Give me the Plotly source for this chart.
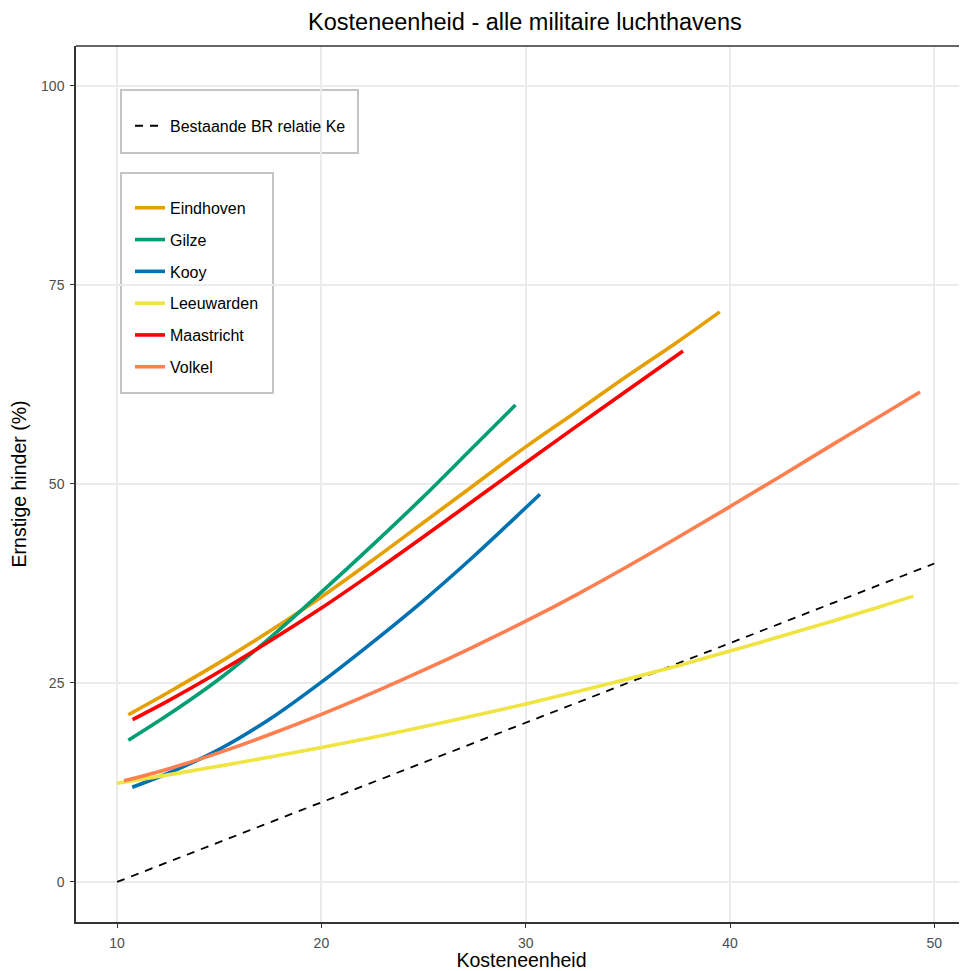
import plotly.graph_objects as go

## values
names = ["Eindhoven", "Gilze", "Kooy", "Leeuwarden", "Maastricht", "Volkel"]
colors = ["#E69F00", "#009E73", "#0072B2", "#F0E442", "#FF0000", "#FF7F50"]

x_eindhoven = [10.55, 12.5, 15, 17.5, 20, 22.5, 25, 27.5, 30, 32.5, 35, 37.5, 39.5]
y_eindhoven = [21.0, 23.8, 27.55, 31.55, 35.8, 40.4, 45.15, 49.9, 54.65, 59.1, 63.6, 67.95, 71.6]

x_gilze = [10.55, 12.5, 15, 17.5, 20, 22.5, 25, 27.5, 29.5]
y_gilze = [17.8, 21.0, 25.5, 30.7, 36.4, 42.3, 48.4, 54.8, 59.9]

x_kooy = [10.74, 12.5, 15, 17.5, 20, 22.5, 25, 27.5, 30, 30.7]
y_kooy = [11.9, 13.65, 16.65, 20.5, 25.1, 30.1, 35.35, 41.0, 47.0, 48.7]

x_leeuwarden = [10.0, 12.5, 15, 17.5, 20, 22.5, 25, 27.5, 30, 32.5, 35, 37.5, 40, 42.5, 45, 47.5, 48.97]
y_leeuwarden = [12.4, 13.45, 14.55, 15.7, 16.9, 18.15, 19.5, 20.9, 22.35, 23.9, 25.5, 27.2, 29.0, 30.85, 32.75, 34.7, 35.9]

x_maastricht = [10.76, 12.5, 15, 17.5, 20, 22.5, 25, 27.5, 30, 32.5, 35, 37.7]
y_maastricht = [20.4, 22.75, 26.4, 30.3, 34.4, 38.8, 43.35, 48.0, 52.65, 57.25, 61.8, 66.7]

x_volkel = [10.34, 12.5, 15, 17.5, 20, 22.5, 25, 27.5, 30, 32.5, 35, 37.5, 40, 42.5, 45, 47.5, 49.3]
y_volkel = [12.7, 14.2, 16.25, 18.55, 21.05, 23.75, 26.6, 29.6, 32.75, 36.1, 39.65, 43.35, 47.15, 51.0, 54.9, 58.75, 61.55]

x_br = [10, 50]  ## existing BR relation (dashed)
y_br = [0, 40]

xs = [x_eindhoven, x_gilze, x_kooy, x_leeuwarden, x_maastricht, x_volkel]
ys = [y_eindhoven, y_gilze, y_kooy, y_leeuwarden, y_maastricht, y_volkel]

fig = go.Figure()

fig.add_trace(go.Scatter(x=x_br, y=y_br, mode="lines", name="Bestaande BR relatie Ke",
                         line=dict(color="black", width=1.8, dash="8px,7px"), legend="legend"))

for i in range(len(names)):
    fig.add_trace(go.Scatter(x=xs[i], y=ys[i], mode="lines", name=names[i],
                             line=dict(color=colors[i], width=3.6, shape="spline", smoothing=1.0),
                             legend="legend2", legendgroup=names[i]))

font = "Liberation Sans, Arial, sans-serif"
axis = dict(showgrid=True, gridcolor="#ebebeb", gridwidth=1.5, zeroline=False,
            showline=True, linecolor="#333333", linewidth=1.5,
            ticks="outside", ticklen=4, tickcolor="#333333", tickwidth=1.2,
            ticklabelstandoff=3,
            tickfont=dict(family=font, size=14, color="#4d4d4d"))

leg = dict(xanchor="left", yanchor="top", bgcolor="rgba(0,0,0,0)", borderwidth=0,
           font=dict(size=16), title=dict(text=" ", font=dict(size=16)))

## the page has an 8px body margin, so the figure is a little smaller than the window
fig.update_layout(
    width=959, height=963,
    margin=dict(l=68, r=0, t=38, b=49),
    paper_bgcolor="white", plot_bgcolor="white",
    font=dict(family=font, color="black"),
    title=dict(text="Kosteneenheid - alle militaire luchthavens", x=0.539, xanchor="center",
               y=0.9855, yanchor="middle", font=dict(size=23.5, color="black")),
    xaxis=dict(axis, range=[7.99, 51.6], tickvals=[10, 20, 30, 40, 50],
               title=dict(text="Kosteneenheid", font=dict(size=19.5), standoff=4)),
    yaxis=dict(axis, range=[-5.03, 105.0], tickvals=[0, 25, 50, 75, 100],
               title=dict(text="Ernstige hinder (%)", font=dict(size=19.5), standoff=10)),
    legend=dict(leg, x=0.0606, y=0.952),
    legend2=dict(leg, x=0.0606, y=0.8584, tracegroupgap=8),
    showlegend=True,
)

## legend boxes drawn as shapes so their padding matches the ggplot keys
for x0, x1, y0, y1 in [(0.0505, 0.3165, 0.8779, 0.9498), (0.0505, 0.2211, 0.6039, 0.8550)]:
    fig.add_shape(type="rect", xref="paper", yref="paper", x0=x0, x1=x1, y0=y0, y1=y1,
                  fillcolor="white", line=dict(color="#c4c4c4", width=2), layer="below")

## ggplot style panel border on top (right side falls outside the page)
fig.add_shape(type="line", xref="paper", yref="paper", x0=0, x1=1, y0=1, y1=1,
              line=dict(color="#333333", width=1.5))

fig.write_html("out.html")
